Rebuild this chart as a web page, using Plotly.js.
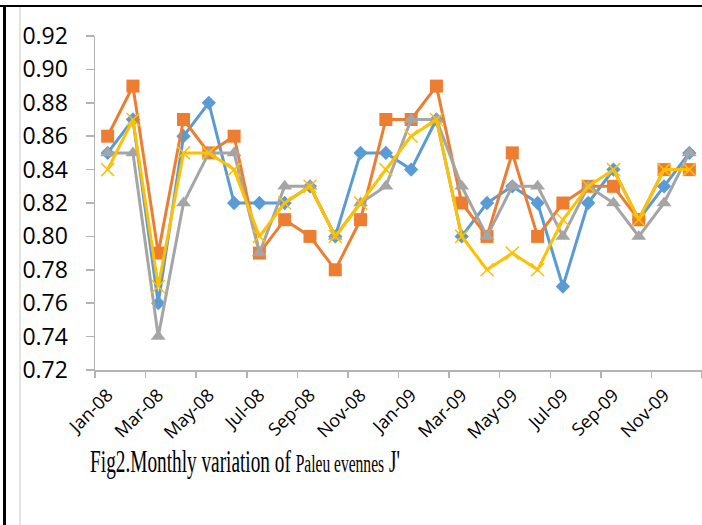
<!DOCTYPE html>
<html>
<head>
<meta charset="utf-8">
<script src="https://cdn.plot.ly/plotly-3.0.1.min.js"></script>
<style>html,body{margin:0;padding:0;background:#fff;}#chart{width:702px;height:525px;}</style>
</head>
<body>
<div id="chart"></div>
<script>
const months = ["Jan-08","Feb-08","Mar-08","Apr-08","May-08","Jun-08","Jul-08","Aug-08","Sep-08","Oct-08","Nov-08","Dec-08",
                "Jan-09","Feb-09","Mar-09","Apr-09","May-09","Jun-09","Jul-09","Aug-09","Sep-09","Oct-09","Nov-09","Dec-09"];
const seriesBlue   = [0.85,0.87,0.76,0.86,0.88,0.82,0.82,0.82,0.83,0.80,0.85,0.85,0.84,0.87,0.80,0.82,0.83,0.82,0.77,0.82,0.84,0.81,0.83,0.85];
const seriesOrange = [0.86,0.89,0.79,0.87,0.85,0.86,0.79,0.81,0.80,0.78,0.81,0.87,0.87,0.89,0.82,0.80,0.85,0.80,0.82,0.83,0.83,0.81,0.84,0.84];
const seriesGray   = [0.85,0.85,0.74,0.82,0.85,0.85,0.79,0.83,0.83,0.80,0.82,0.83,0.87,0.87,0.83,0.80,0.83,0.83,0.80,0.83,0.82,0.80,0.82,0.85];
const seriesYellow = [0.84,0.87,0.77,0.85,0.85,0.84,0.80,0.82,0.83,0.80,0.82,0.84,0.86,0.87,0.80,0.78,0.79,0.78,0.81,0.83,0.84,0.81,0.84,0.84];
const captionMain = "Fig2.Monthly variation of ";
const captionSpecies = "Paleu evennes";
const captionEnd = " J'";

const xIdx = months.map((m, i) => i);
const labelIdx = xIdx.filter(i => i % 2 === 0);
const labelText = labelIdx.map(i => months[i]);
const boundaryIdx = labelIdx.map(i => i - 0.5).concat([months.length - 0.5]);

function trace(y, color, symbol, size, mline) {
  return {
    x: xIdx, y: y, type: 'scatter', mode: 'lines+markers',
    line: {color: color, width: 3},
    marker: {symbol: symbol, size: size, color: color, line: mline || {width: 0}},
    hoverinfo: 'skip', showlegend: false
  };
}

const data = [
  trace(seriesBlue, '#5B9BD5', 'diamond', 11),
  trace(seriesOrange, '#ED7D31', 'square', 13),
  trace(seriesGray, '#A5A5A5', 'triangle-up', 13),
  trace(seriesYellow, '#FFC000', 'x-thin-open', 13, {width: 1.5, color: '#FFC000'})
];

// pixel helpers for frame decorations
const L = 95, T = 36, W = 607, H = 334;
const px = v => (v - L) / W;
const py = v => (T + H - v) / H;

const layout = {
  width: 702, height: 525,
  margin: {l: L, r: 0, t: T, b: 525 - T - H},
  paper_bgcolor: '#fff', plot_bgcolor: '#fff',
  showlegend: false,
  xaxis: {
    range: [-0.5, months.length - 0.5],
    showgrid: false, zeroline: false,
    showline: true, linecolor: '#b3b3b3', linewidth: 1.5,
    tickmode: 'array', tickvals: labelIdx, ticktext: labelText,
    ticks: '', tickangle: -45,
    tickfont: {family: 'Open Sans, sans-serif', size: 18, color: '#000'},
    ticklabelstandoff: 6,
    minor: {tickmode: 'array', tickvals: boundaryIdx, ticks: 'outside', ticklen: 6, tickwidth: 1.5, tickcolor: '#b3b3b3', showgrid: false}
  },
  yaxis: {
    range: [0.72, 0.92], dtick: 0.02, tick0: 0.72, tickformat: '.2f',
    showgrid: false, zeroline: false,
    showline: true, linecolor: '#b3b3b3', linewidth: 1.5,
    ticks: 'outside', ticklen: 8, tickwidth: 1.5, tickcolor: '#b3b3b3',
    tickfont: {family: 'Open Sans, sans-serif', size: 23, color: '#000'},
    ticklabelstandoff: 13
  },
  shapes: [
    {type: 'line', xref: 'paper', yref: 'paper', x0: px(0), x1: px(702), y0: py(6), y1: py(6), line: {color: '#000', width: 2}},
    {type: 'line', xref: 'paper', yref: 'paper', x0: px(4.5), x1: px(4.5), y0: py(5), y1: py(525), line: {color: '#000', width: 3}},
    {type: 'line', xref: 'paper', yref: 'paper', x0: px(20), x1: px(20), y0: py(7), y1: py(525), line: {color: '#c8c8c8', width: 1}}
  ],
  annotations: [{
    xref: 'paper', yref: 'paper', x: px(88), y: py(461), xanchor: 'left', yanchor: 'middle',
    showarrow: false,
    text: captionMain + '<i>' + captionSpecies + '</i>' + captionEnd,
    font: {family: 'Liberation Serif, Times New Roman, serif', size: 31, color: '#000'}
  }]
};

Plotly.newPlot('chart', data, layout, {staticPlot: true, displayModeBar: false}).then(() => {
  const t = document.querySelector('.annotation-text');
  if (t) {
    const bb0 = t.getBBox();
    t.querySelectorAll('tspan').forEach(ts => {
      if (ts.textContent === captionSpecies) {
        ts.style.fontStyle = 'normal';
        ts.style.fontSize = '25px';
      }
    });
    const bb1 = t.getBBox();
    const target = 310;
    if (bb1.width > 0) {
      const s = target / bb1.width;
      t.setAttribute('transform', 'translate(' + bb0.x + ',0) scale(' + s + ',1) translate(' + (-bb1.x) + ',0)');
    }
  }
});
</script>
</body>
</html>
